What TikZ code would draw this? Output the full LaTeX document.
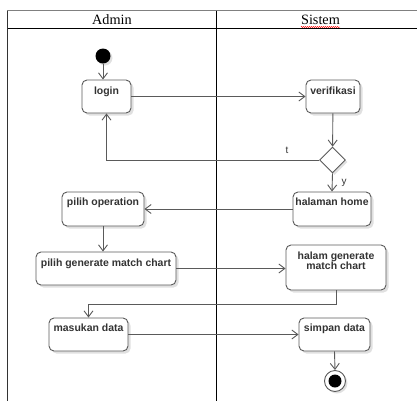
\documentclass[tikz,border=0pt]{standalone}
\usepackage{fontspec}
\setmainfont{Liberation Serif}
\setsansfont{Liberation Sans}
\usetikzlibrary{arrows.meta,shapes.geometric,shadows,decorations.pathmorphing}

\definecolor{edge}{HTML}{5A5A5A}
\definecolor{ink}{HTML}{333333}

\tikzset{
  act/.style={draw=edge, line width=0.9bp, rounded corners=5bp, fill=white, inner sep=0,
    drop shadow={shadow xshift=2.5bp, shadow yshift=-2.5bp, opacity=0.12, fill=black}},
  txt/.style={font=\sffamily\bfseries\fontsize{10.5}{10}\selectfont, text=ink, inner sep=0, anchor=base},
  guard/.style={font=\sffamily\fontsize{10}{10}\selectfont, text=ink, inner sep=0},
  flow/.style={draw=edge, line width=0.9bp, -{Straight Barb[length=6bp,width=9bp]}},
  lane/.style={line width=0.8bp},
  head/.style={font=\fontsize{14.3}{16}\selectfont, anchor=base, inner sep=0},
}

\begin{document}
\begin{tikzpicture}[x=1bp,y=-1bp]
\useasboundingbox (0,0) rectangle (417,401);

% swimlane frame
\draw[lane, draw=gray] (7,10.5) -- (417,10.5);
\draw[lane] (7,28.5) -- (417,28.5);
\draw[lane, draw=black!80] (7,10.5) -- (7,401);
\draw[lane] (216,10.5) -- (216,401);
\node[head] (h-admin) at (112,24.5) {Admin};
\node[head] (h-sistem) at (320.5,24.5) {Sistem};
\draw[red, line width=0.4bp, decorate, decoration={snake, amplitude=0.6bp, segment length=2bp}]
  (301,27) -- (340,27);

% start and end
\node[circle, fill=black, minimum size=15bp, inner sep=0,
  drop shadow={shadow xshift=2bp, shadow yshift=-2bp, opacity=0.12, fill=black}] (st) at (103,56) {};
\node[circle, draw=edge, line width=0.9bp, fill=white, minimum size=21bp, inner sep=0,
  drop shadow={shadow xshift=2bp, shadow yshift=-2bp, opacity=0.12, fill=black}] (en) at (335,381) {};
\node[circle, fill=black, minimum size=13bp, inner sep=0] (en-dot) at (en) {};

% actions
\node[act, minimum width=49bp, minimum height=33bp] (login) at (106.5,96.5) {};
\node[txt] (login-t) at (106.5,94.5) {login};

\node[act, minimum width=54bp, minimum height=33bp] (verif) at (333,96.5) {};
\node[txt] (verif-t) at (333,94.5) {verifikasi};

\node[diamond, draw=edge, line width=0.9bp, fill=white, minimum width=26bp, minimum height=26bp, inner sep=0,
  drop shadow={shadow xshift=2bp, shadow yshift=-2bp, opacity=0.12, fill=black}] (dec) at (332.5,160) {};

\node[act, minimum width=78bp, minimum height=34bp] (home) at (332,209) {};
\node[txt] (home-t) at (332,205.5) {halaman home};

\node[act, minimum width=82bp, minimum height=34bp] (op) at (103,209) {};
\node[txt] (op-t) at (103,205.5) {pilih operation};

\node[act, minimum width=140bp, minimum height=33bp] (gen) at (106,268.5) {};
\node[txt] (gen-t) at (106,266) {pilih generate match chart};

\node[act, minimum width=100bp, minimum height=45bp] (hg) at (336,267.5) {};
\node[txt] (hg-t1) at (336,259.5) {halam generate};
\node[txt] (hg-t2) at (336,269.5) {match chart};

\node[act, minimum width=79bp, minimum height=33bp] (mas) at (88.5,334.5) {};
\node[txt] (mas-t) at (88.5,331.7) {masukan data};

\node[act, minimum width=71bp, minimum height=33bp] (sim) at (334.5,334.5) {};
\node[txt] (sim-t) at (334.5,331.7) {simpan data};

% control flow
\draw[flow] (st) -- (st |- login.north);
\draw[flow] (login) -- (verif);
\draw[flow] (verif) -- (dec);
\draw[flow] (dec.west) -| (login.south);
\node[guard] (g-t) at (287,150) {t};
\draw[flow] (dec.south) -- (home.north);
\node[guard] (g-y) at (344,183) {y};
\draw[flow] (home) -- (op);
\draw[flow] (op.south) -- (op.south |- gen.north);
\draw[flow] (gen.east) -- (gen.east -| hg.west);
\draw[flow] (hg.south) -- ++(0,14) -| (mas.north);
\draw[flow] (mas) -- (sim);
\draw[flow] (sim.south) -- (en.north);
\end{tikzpicture}
\end{document}
